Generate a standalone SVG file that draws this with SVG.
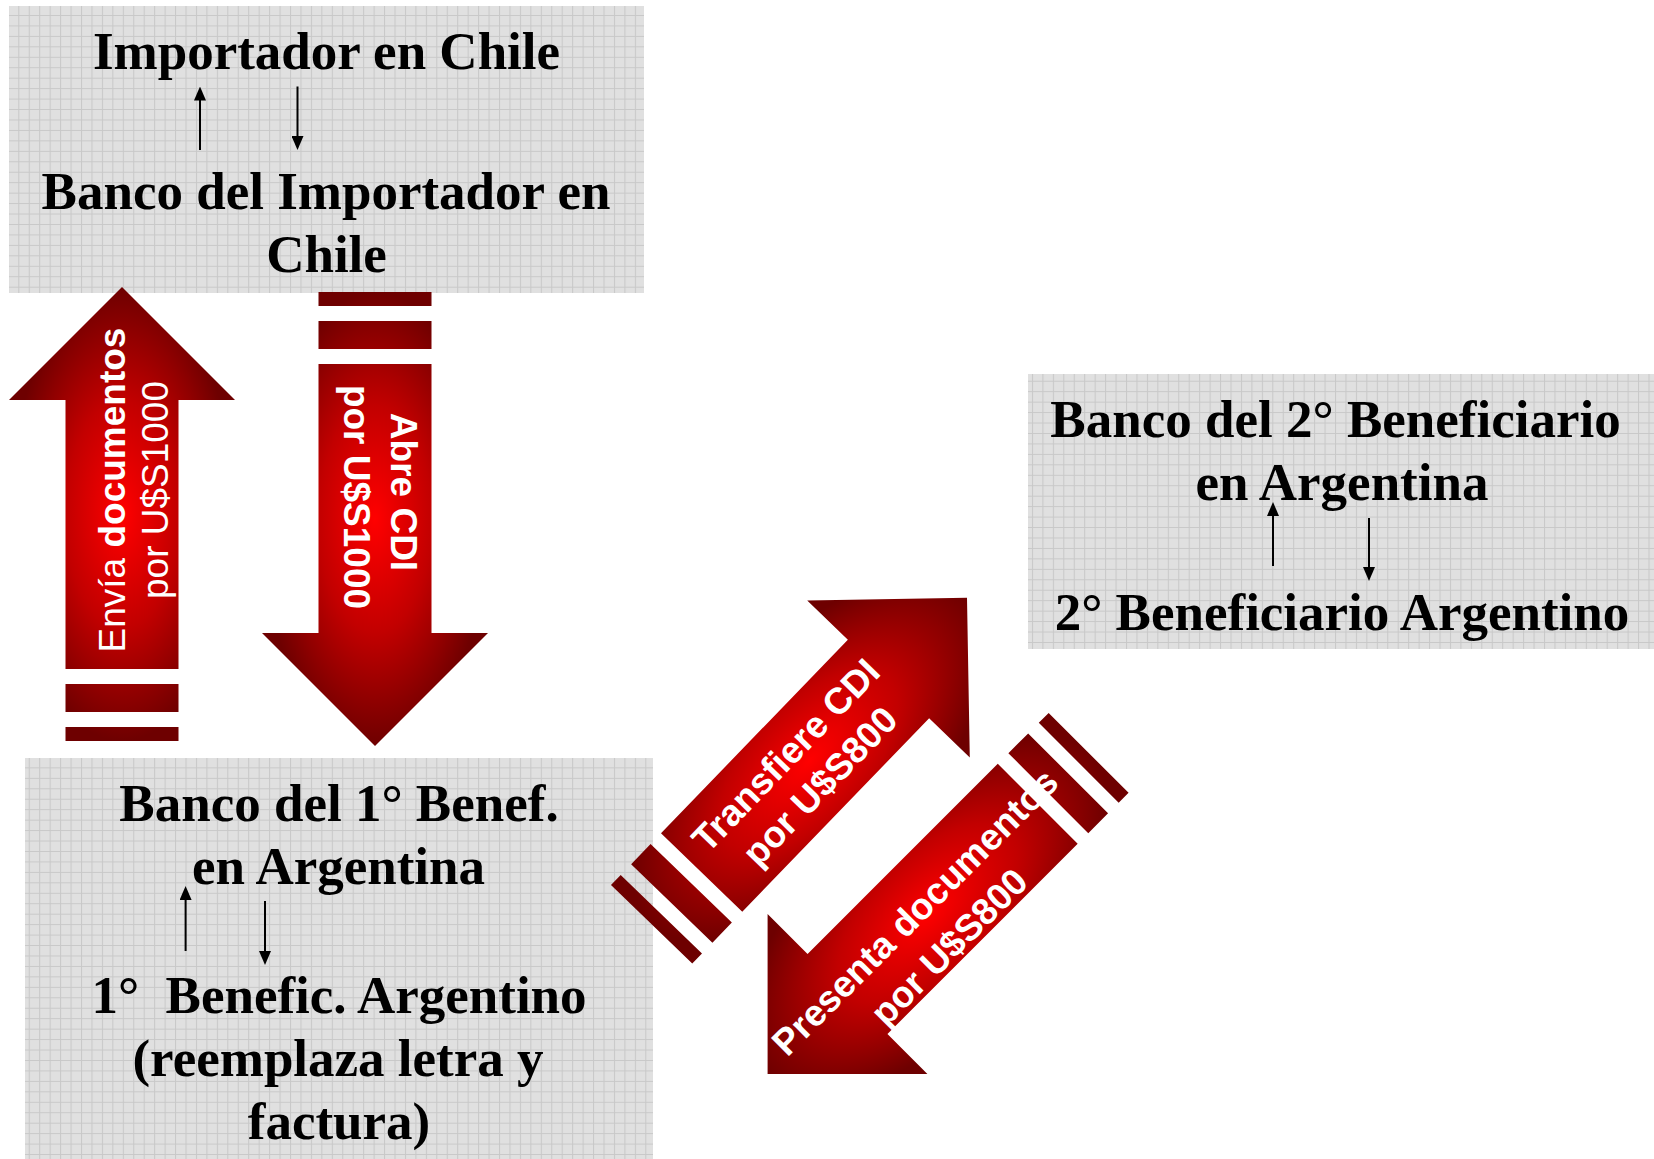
<svg xmlns="http://www.w3.org/2000/svg" width="1654" height="1159" viewBox="0 0 1654 1159">
<defs>
<style>
.box{fill:url(#grid)}
.t{font-family:"Liberation Serif","Times New Roman",serif;font-weight:bold;font-size:53px;fill:#000;text-anchor:middle}
.a{font-family:"Liberation Sans",Arial,sans-serif;font-size:37px;fill:#fff;text-anchor:middle}
.b{font-weight:bold}
.sm{stroke:#000;stroke-width:2;fill:none;marker-end:url(#ah)}
</style>
<pattern id="grid" patternUnits="userSpaceOnUse" x="7.85" y="4.55" width="10.45" height="10.45">
<rect width="10.45" height="10.45" fill="#e0e0e0"/>
<path d="M0.5,0V10.45M0,0.5H10.45" stroke="#c8c8c8" stroke-width="1"/>
</pattern>
<radialGradient id="red" cx="0.5" cy="0.5" r="0.5">
<stop offset="0" stop-color="#ff0000"/>
<stop offset="0.5" stop-color="#c20000"/>
<stop offset="1" stop-color="#6e0000"/>
</radialGradient>
<path id="arw" fill="url(#red)" d="M0,-113L113,0H56.5V269H-56.5V0H-113Z M-56.5,284H56.5V312H-56.5Z M-56.5,327H56.5V341H-56.5Z"/>
<marker id="ah" markerUnits="userSpaceOnUse" markerWidth="14" markerHeight="12" refX="10" refY="6" orient="auto">
<path d="M0,0L14,6L0,12Z" fill="#000"/>
</marker>
</defs>
<rect width="1654" height="1159" fill="#fff"/>

<g id="importador">
<rect class="box" x="9" y="6" width="635" height="287"/>
<text class="t" x="326.5" y="68.6">Importador en Chile</text>
<text class="t" x="326" y="209">Banco del Importador en</text>
<text class="t" x="326.5" y="272">Chile</text>
<line class="sm" x1="200" y1="150" x2="200" y2="90.5"/>
<line class="sm" x1="297.5" y1="86.5" x2="297.5" y2="146"/>
</g>

<g id="beneficiario1">
<rect class="box" x="25" y="758" width="628" height="401"/>
<text class="t" x="339" y="820.6">Banco del 1° Benef.</text>
<text class="t" x="338.6" y="884">en Argentina</text>
<text class="t" x="339" y="1012.6" xml:space="preserve">1°  Benefic. Argentino</text>
<text class="t" x="338" y="1076">(reemplaza letra y</text>
<text class="t" x="339" y="1139">factura)</text>
<line class="sm" x1="185.6" y1="951" x2="185.6" y2="890"/>
<line class="sm" x1="265" y1="901" x2="265" y2="961"/>
</g>

<g id="beneficiario2">
<rect class="box" x="1028" y="374" width="626" height="275"/>
<text class="t" x="1335.5" y="436.7">Banco del 2° Beneficiario</text>
<text class="t" x="1342" y="500">en Argentina</text>
<text class="t" x="1342" y="629.7">2° Beneficiario Argentino</text>
<line class="sm" x1="1273" y1="566" x2="1273" y2="506"/>
<line class="sm" x1="1369" y1="518" x2="1369" y2="577"/>
</g>

<g id="connectors">
<g id="envia">
<use href="#arw" transform="translate(122,400)"/>
<text class="a" transform="translate(125,490) rotate(-90)">Envía <tspan class="b">documentos</tspan></text>
<text class="a" transform="translate(168,490) rotate(-90)">por U$S1000</text>
</g>
<g id="abre">
<use href="#arw" transform="translate(375,633) rotate(180)"/>
<text class="a b" transform="translate(391,492) rotate(90)">Abre CDI</text>
<text class="a b" transform="translate(344,497) rotate(90)">por U$S1000</text>
</g>
<g id="transfiere">
<use href="#arw" transform="translate(888.5,679) rotate(44)"/>
<text class="a b" transform="translate(795,764) rotate(-46)">Transfiere CDI</text>
<text class="a b" transform="translate(829,795) rotate(-46)">por U$S800</text>
</g>
<g id="presenta">
<use href="#arw" transform="translate(847.5,994) rotate(225)"/>
<text class="a b" transform="translate(924,921) rotate(-45)">Presenta documentos</text>
<text class="a b" transform="translate(958,956) rotate(-45)">por U$S800</text>
</g>
</g>
</svg>
